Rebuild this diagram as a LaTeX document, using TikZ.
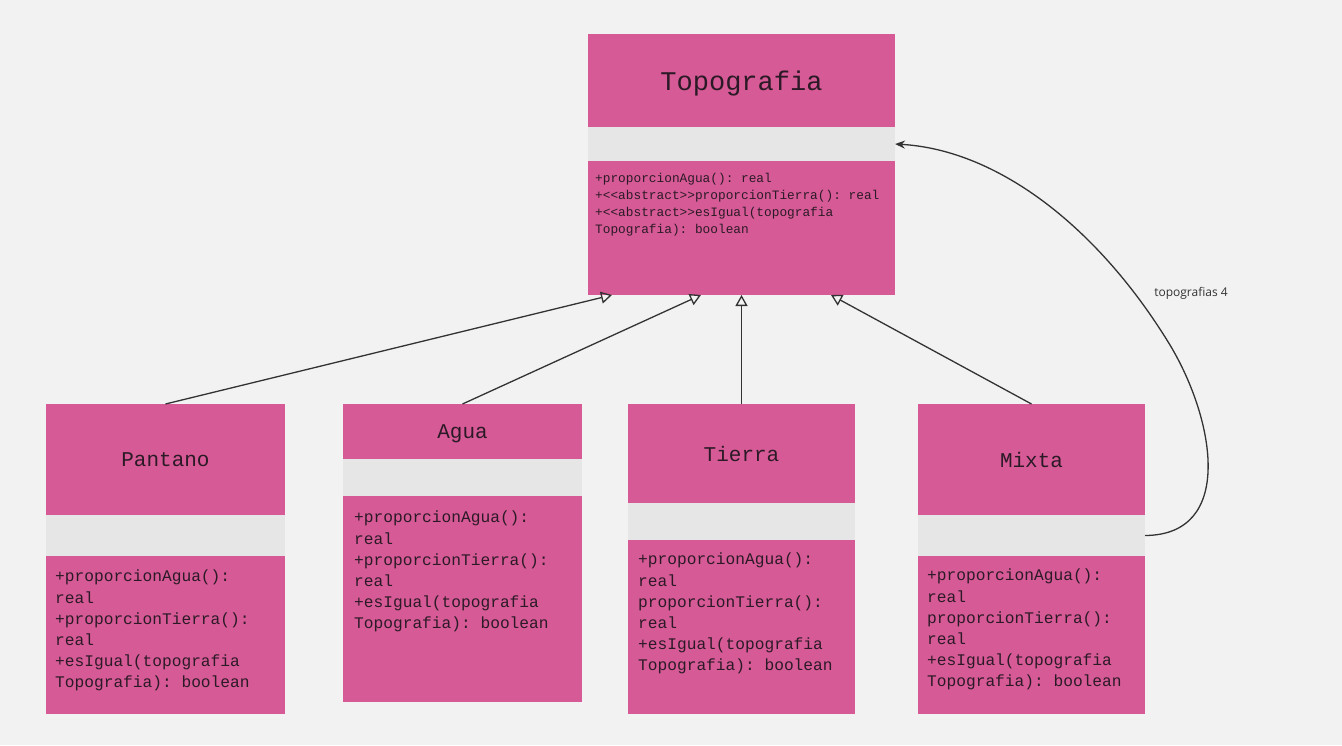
\documentclass[tikz,border=0pt]{standalone}
\usepackage{fontspec}
\setmonofont{Liberation Mono}
\newfontfamily\lblfont{Open Sans}
\usetikzlibrary{arrows.meta,calc}
\definecolor{pk}{HTML}{D65A96}
\definecolor{bandg}{HTML}{E6E6E6}
\definecolor{bgc}{HTML}{F2F2F2}
\definecolor{ink}{HTML}{2B1A26}
\definecolor{ln}{HTML}{333333}
\begin{document}
\begin{tikzpicture}[x=1pt,y=-1pt,
  part/.style={anchor=north west, inner sep=0, outer sep=0, fill=pk, text=ink},
  hdr/.style={part, font=\ttfamily\fontsize{21}{24}\selectfont},
  band/.style={part, fill=bandg},
  txt/.style={anchor=north west, inner sep=0, align=left, text=ink, font=\ttfamily\fontsize{16.2}{21.2}\selectfont},
  gen/.style={draw=ln, line width=1.3pt, -{Triangle[open, length=11pt, width=12pt]}},
  assoc/.style={draw=ln, line width=1.3pt, -{Stealth[length=10pt, width=8pt]}}
]
\path[fill=bgc] (0,0) rectangle (1342,745);
\useasboundingbox (0,0) rectangle (1342,745);

% Topografia
\node[hdr, font=\ttfamily\fontsize{27}{30}\selectfont, minimum width=307, minimum height=93, text depth=0pt] (toph) at (588,34) {Topografia};
\node[band, minimum width=307, minimum height=34] (topg) at (588,127) {};
\node[part, minimum width=307, minimum height=134] (topb) at (588,161) {};
\node[txt, font=\ttfamily\fontsize{12.8}{17}\selectfont] (topt) at (595,173) {+proporcionAgua(): real\\+{<}{<}abstract{>}{>}proporcionTierra(): real\\+{<}{<}abstract{>}{>}esIgual(topografia\\Topografia): boolean};

% Pantano
\node[hdr, minimum width=239, minimum height=111, text depth=0pt] (panh) at (46,404) {Pantano};
\node[band, minimum width=239, minimum height=41] (pang) at (46,515) {};
\node[part, minimum width=239, minimum height=158] (panb) at (46,556) {};
\node[txt] (pant) at (55,570) {+proporcionAgua():\\real\\+proporcionTierra():\\real\\+esIgual(topografia\\Topografia): boolean};

% Agua
\node[hdr, minimum width=239, minimum height=55, text depth=0pt] (aguh) at (343,404) {Agua};
\node[band, minimum width=239, minimum height=37] (agug) at (343,459) {};
\node[part, minimum width=239, minimum height=206] (agub) at (343,496) {};
\node[txt] (agut) at (354,511) {+proporcionAgua():\\real\\+proporcionTierra():\\real\\+esIgual(topografia\\Topografia): boolean};

% Tierra
\node[hdr, minimum width=227, minimum height=99, text depth=0pt] (tieh) at (628,404) {Tierra};
\node[band, minimum width=227, minimum height=37] (tieg) at (628,503) {};
\node[part, minimum width=227, minimum height=174] (tieb) at (628,540) {};
\node[txt] (tiet) at (638,553) {+proporcionAgua():\\real\\proporcionTierra():\\real\\+esIgual(topografia\\Topografia): boolean};

% Mixta
\node[hdr, minimum width=227, minimum height=111, text depth=0pt] (mixh) at (918,404) {Mixta};
\node[band, minimum width=227, minimum height=41] (mixg) at (918,515) {};
\node[part, minimum width=227, minimum height=158] (mixb) at (918,556) {};
\node[txt] (mixt) at (927,569) {+proporcionAgua():\\real\\proporcionTierra():\\real\\+esIgual(topografia\\Topografia): boolean};

% generalizations
\draw[gen] (panh.north) -- ($(topb.south west)+(24,0)$);
\draw[gen] (aguh.north) -- ($(topb.south west)+(113,0)$);
\draw[gen] (tieh.north) -- (tieh.north |- topb.south);
\draw[gen] (mixh.north) -- ($(topb.south west)+(243,0)$);

% association
\draw[assoc] (mixg.east) .. controls (1235,535) and (1215,420) .. (1170,345)
  .. controls (1100,230) and (1000,150) .. (topg.east);
\node[font=\lblfont\fontsize{12}{14}\selectfont, text=ln, inner sep=0] (lbl) at (1191,293) {topografias 4};
\end{tikzpicture}
\end{document}
